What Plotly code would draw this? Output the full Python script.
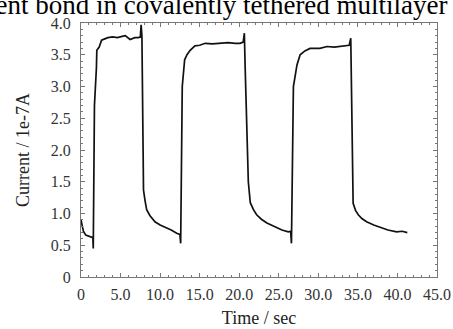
import plotly.graph_objects as go

time_s = [0, 0.3, 0.6, 1.0, 1.4, 1.5, 1.55, 1.6, 1.7, 1.95, 2.0, 2.3, 2.6, 3.0, 3.4, 4.0, 4.6, 5.2, 5.6, 6.2, 6.8, 7.2, 7.5, 7.6, 7.7, 7.85, 7.9, 8.1, 8.3, 8.7, 9.35, 10.0, 10.6, 11.4, 12.1, 12.5, 12.6, 12.7, 12.8, 13.1, 13.4, 13.8, 14.4, 15.0, 15.7, 16.6, 17.6, 18.6, 19.5, 20.1, 20.5, 20.65, 20.75, 21.0, 21.15, 21.4, 21.8, 22.2, 22.8, 23.5, 24.4, 25.4, 26.2, 26.5, 26.6, 26.7, 26.85, 27.3, 27.7, 28.3, 28.95, 30.2, 31.1, 32.0, 32.7, 33.6, 33.9, 34.1, 34.2, 34.3, 34.4, 34.7, 35.05, 35.5, 36.1, 37.0, 37.8, 38.8, 39.9, 40.6, 41.25]
current = [0.9, 0.72, 0.66, 0.64, 0.63, 0.62, 0.45, 1.05, 2.7, 3.3, 3.57, 3.62, 3.73, 3.75, 3.77, 3.78, 3.77, 3.79, 3.80, 3.74, 3.77, 3.77, 3.78, 3.97, 3.8, 2.0, 1.37, 1.2, 1.06, 0.97, 0.87, 0.82, 0.79, 0.74, 0.69, 0.67, 0.53, 1.5, 3.0, 3.42, 3.5, 3.57, 3.64, 3.65, 3.68, 3.67, 3.68, 3.69, 3.68, 3.68, 3.70, 3.84, 3.3, 2.0, 1.5, 1.17, 1.06, 0.98, 0.91, 0.85, 0.80, 0.74, 0.71, 0.72, 0.53, 1.3, 3.0, 3.34, 3.50, 3.56, 3.60, 3.60, 3.63, 3.62, 3.63, 3.64, 3.65, 3.76, 3.0, 1.8, 1.16, 1.05, 0.98, 0.92, 0.87, 0.82, 0.78, 0.74, 0.71, 0.72, 0.70]

x_ticks = [0, 5, 10, 15, 20, 25, 30, 35, 40, 45]
x_labels = ["0", "5.0", "10.0", "15.0", "20.0", "25.0", "30.0", "35.0", "40.0", "45.0"]
y_ticks = [0, 0.5, 1.0, 1.5, 2.0, 2.5, 3.0, 3.5, 4.0]
y_labels = ["0", "0.5", "1.0", "1.5", "2.0", "2.5", "3.0", "3.5", "4.0"]

title_text = "covalent bond in covalently tethered multilayer"
x_title = "Time / sec"
y_title = "Current / 1e-7A"

font_family = "Liberation Serif"
axis_color = "#777777"

fig = go.Figure()
fig.add_trace(go.Scatter(x=time_s, y=current, mode="lines",
                         line=dict(color="#111111", width=1.7), showlegend=False))

common = dict(showline=True, linecolor=axis_color, linewidth=1, mirror="ticks",
              ticks="inside", ticklen=4, tickcolor=axis_color, showgrid=False,
              zeroline=False, automargin=False,
              tickfont=dict(family=font_family, size=16, color="#333333"))

fig.update_xaxes(range=[0, 45], tickvals=x_ticks, ticktext=x_labels,
                 ticklabelstandoff=3,
                 minor=dict(dtick=1, ticks="inside", ticklen=2, tickcolor=axis_color),
                 title=dict(text=x_title, font=dict(family=font_family, size=18, color="#222222"), standoff=9),
                 **common)
fig.update_yaxes(range=[0, 4], tickvals=y_ticks, ticktext=y_labels,
                 ticklabelstandoff=6,
                 minor=dict(dtick=0.1, ticks="inside", ticklen=2, tickcolor=axis_color),
                 title=dict(text=y_title, font=dict(family=font_family, size=18, color="#222222"), standoff=16),
                 **common)

fig.add_annotation(text=title_text, xref="paper", yref="paper", x=1.036, y=1.072,
                   xanchor="right", yanchor="middle", showarrow=False,
                   font=dict(family=font_family, size=27, color="#000000"))

fig.update_layout(width=453, height=329, margin=dict(l=81, r=16, t=23, b=52),
                  paper_bgcolor="white", plot_bgcolor="white")

fig.write_html("out.html")
